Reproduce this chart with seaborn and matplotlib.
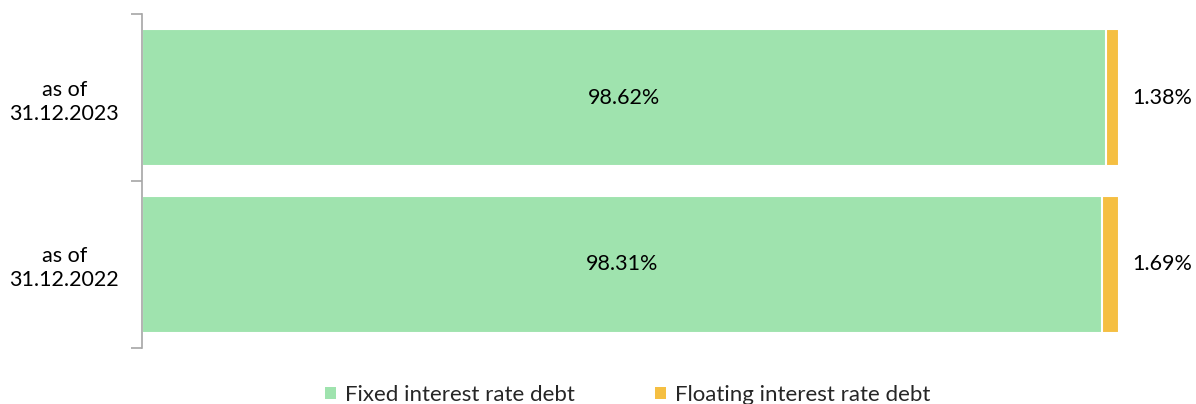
import matplotlib
matplotlib.use("Agg")
import matplotlib.pyplot as plt
import seaborn as sns
import pandas as pd
from matplotlib.patches import Patch

categories = ["as of\n31.12.2023", "as of\n31.12.2022"]
fixed = [98.62, 98.31]
floating = [1.38, 1.69]
series_names = ["Fixed interest rate debt", "Floating interest rate debt"]
colors = ["#9FE3AE", "#F5BF42"]

sns.set_theme(style="white")
plt.rcParams["font.family"] = ["Lato", "DejaVu Sans"]

df = pd.DataFrame({"cat": categories, "fixed": fixed, "floating": floating})
df["total"] = df["fixed"] + df["floating"]

fig = plt.figure(figsize=(11.96, 4.04), dpi=100)
ax = fig.add_axes([142 / 1196, 1 - 348 / 404, (1119 - 142) / 1196, (348 - 14) / 404])

sns.barplot(data=df, x="total", y="cat", orient="h", color=colors[1], width=0.82,
            edgecolor="white", linewidth=1.5, ax=ax, saturation=1)
sns.barplot(data=df, x="fixed", y="cat", orient="h", color=colors[0], width=0.82,
            edgecolor="white", linewidth=1.5, ax=ax, saturation=1)

ax.set_xlim(0, 100)
ax.set_ylim(1.5, -0.5)
ax.set_xlabel("")
ax.set_ylabel("")
ax.set_xticks([])
for s in ["top", "right", "bottom"]:
    ax.spines[s].set_visible(False)
ax.spines["left"].set_color("#A6A6A6")
ax.spines["left"].set_linewidth(1.2)

ax.set_yticks([0, 1])
ax.set_yticklabels(categories, fontsize=15.5, color="#000000", ha="center", linespacing=1.25)
ax.tick_params(axis="y", which="major", length=0, pad=56)
ax.set_yticks([-0.5, 0.5, 1.5], minor=True)
ax.tick_params(axis="y", which="minor", length=8, width=1.2, color="#A6A6A6", direction="out", left=True)

for i in range(len(categories)):
    ax.text(fixed[i] / 2, i, f"{fixed[i]:.2f}%", ha="center", va="center", fontsize=15.5, color="#000000")
    ax.text(fixed[i] + floating[i] + 1.4, i, f"{floating[i]:.2f}%", ha="left", va="center",
            fontsize=15.5, color="#000000")

handles = [Patch(facecolor=c, edgecolor="none") for c in colors]
fig.legend(handles, series_names, loc="center", bbox_to_anchor=(627.5 / 1196, 1 - 395 / 404), ncol=2,
           frameon=False, fontsize=16, handlelength=0.5, handleheight=0.5, handletextpad=0.4,
           columnspacing=3.6)

fig.savefig("out.png", dpi=100)
